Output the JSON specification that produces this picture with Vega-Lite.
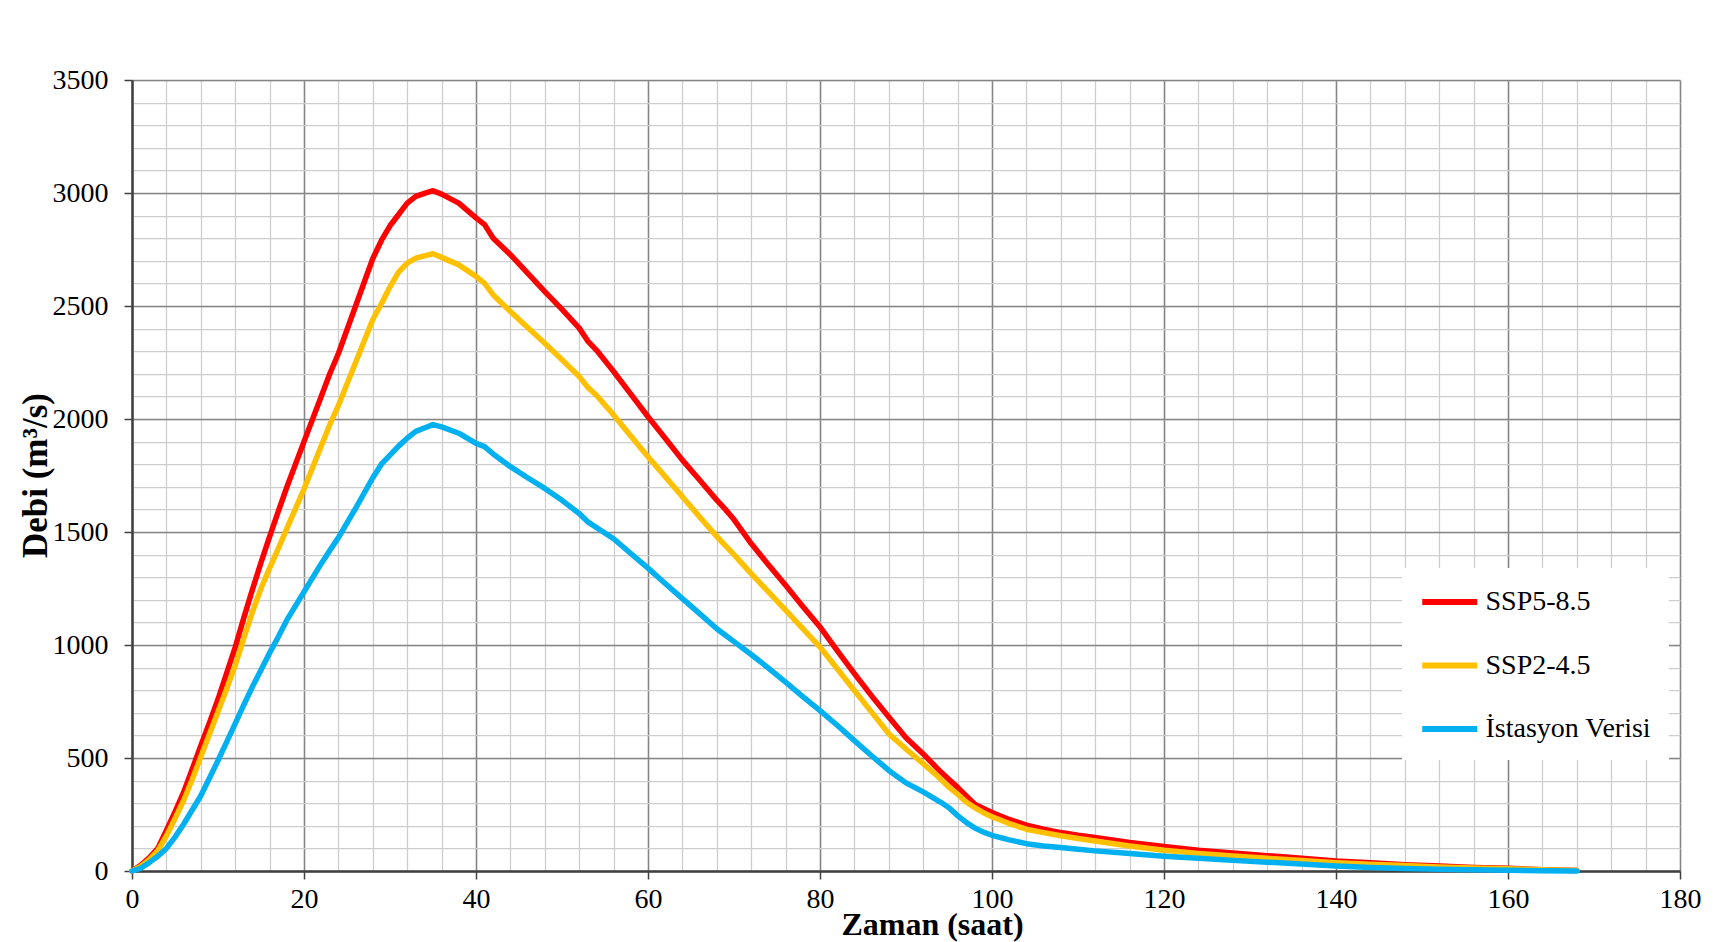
{
"$schema": "https://vega.github.io/schema/vega-lite/v6.json",
"width": 1548,
"height": 791,
"autosize": {"type": "none"},
"padding": {"left": 132, "top": 80, "right": 44, "bottom": 71},
"background": "white",
"config": {"view": {"stroke": null}, "font": "Liberation Serif", "axis": {"labelFont": "Liberation Serif", "titleFont": "Liberation Serif"}, "legend": {"labelFont": "Liberation Serif"}},
"data": {"values": [
{"s":"SSP5-8.5","t":0,"q":0},{"s":"SSP5-8.5","t":1,"q":25},{"s":"SSP5-8.5","t":2,"q":58},{"s":"SSP5-8.5","t":3,"q":100},{"s":"SSP5-8.5","t":4,"q":180},{"s":"SSP5-8.5","t":5,"q":262},{"s":"SSP5-8.5","t":6,"q":348},{"s":"SSP5-8.5","t":7,"q":450},{"s":"SSP5-8.5","t":8,"q":555},{"s":"SSP5-8.5","t":9,"q":655},{"s":"SSP5-8.5","t":10,"q":760},{"s":"SSP5-8.5","t":11,"q":875},{"s":"SSP5-8.5","t":12,"q":990},{"s":"SSP5-8.5","t":13,"q":1120},{"s":"SSP5-8.5","t":14,"q":1245},{"s":"SSP5-8.5","t":15,"q":1365},{"s":"SSP5-8.5","t":16,"q":1480},{"s":"SSP5-8.5","t":17,"q":1590},{"s":"SSP5-8.5","t":18,"q":1698},{"s":"SSP5-8.5","t":20,"q":1900},{"s":"SSP5-8.5","t":22,"q":2100},{"s":"SSP5-8.5","t":23,"q":2200},{"s":"SSP5-8.5","t":24,"q":2290},{"s":"SSP5-8.5","t":26,"q":2500},{"s":"SSP5-8.5","t":28,"q":2710},{"s":"SSP5-8.5","t":29,"q":2790},{"s":"SSP5-8.5","t":30,"q":2855},{"s":"SSP5-8.5","t":31,"q":2905},{"s":"SSP5-8.5","t":32,"q":2955},{"s":"SSP5-8.5","t":33,"q":2985},{"s":"SSP5-8.5","t":34,"q":2998},{"s":"SSP5-8.5","t":35,"q":3010},{"s":"SSP5-8.5","t":36,"q":2995},{"s":"SSP5-8.5","t":38,"q":2955},{"s":"SSP5-8.5","t":40,"q":2890},{"s":"SSP5-8.5","t":41,"q":2860},{"s":"SSP5-8.5","t":42,"q":2800},{"s":"SSP5-8.5","t":44,"q":2727},{"s":"SSP5-8.5","t":46,"q":2645},{"s":"SSP5-8.5","t":48,"q":2564},{"s":"SSP5-8.5","t":50,"q":2485},{"s":"SSP5-8.5","t":52,"q":2402},{"s":"SSP5-8.5","t":53,"q":2345},{"s":"SSP5-8.5","t":54,"q":2305},{"s":"SSP5-8.5","t":56,"q":2210},{"s":"SSP5-8.5","t":58,"q":2110},{"s":"SSP5-8.5","t":60,"q":2010},{"s":"SSP5-8.5","t":62,"q":1915},{"s":"SSP5-8.5","t":64,"q":1818},{"s":"SSP5-8.5","t":66,"q":1730},{"s":"SSP5-8.5","t":68,"q":1641},{"s":"SSP5-8.5","t":69,"q":1600},{"s":"SSP5-8.5","t":70,"q":1555},{"s":"SSP5-8.5","t":72,"q":1449},{"s":"SSP5-8.5","t":74,"q":1355},{"s":"SSP5-8.5","t":76,"q":1264},{"s":"SSP5-8.5","t":78,"q":1170},{"s":"SSP5-8.5","t":80,"q":1080},{"s":"SSP5-8.5","t":82,"q":975},{"s":"SSP5-8.5","t":84,"q":873},{"s":"SSP5-8.5","t":86,"q":775},{"s":"SSP5-8.5","t":88,"q":681},{"s":"SSP5-8.5","t":90,"q":590},{"s":"SSP5-8.5","t":92,"q":518},{"s":"SSP5-8.5","t":94,"q":440},{"s":"SSP5-8.5","t":95,"q":405},{"s":"SSP5-8.5","t":96,"q":370},{"s":"SSP5-8.5","t":97,"q":332},{"s":"SSP5-8.5","t":98,"q":295},{"s":"SSP5-8.5","t":99,"q":277},{"s":"SSP5-8.5","t":100,"q":259},{"s":"SSP5-8.5","t":102,"q":228},{"s":"SSP5-8.5","t":104,"q":203},{"s":"SSP5-8.5","t":106,"q":185},{"s":"SSP5-8.5","t":108,"q":170},{"s":"SSP5-8.5","t":110,"q":158},{"s":"SSP5-8.5","t":112,"q":148},{"s":"SSP5-8.5","t":116,"q":126},{"s":"SSP5-8.5","t":120,"q":108},{"s":"SSP5-8.5","t":124,"q":92},{"s":"SSP5-8.5","t":128,"q":80},{"s":"SSP5-8.5","t":132,"q":68},{"s":"SSP5-8.5","t":136,"q":56},{"s":"SSP5-8.5","t":140,"q":44},{"s":"SSP5-8.5","t":144,"q":36},{"s":"SSP5-8.5","t":148,"q":28},{"s":"SSP5-8.5","t":152,"q":22},{"s":"SSP5-8.5","t":156,"q":16},{"s":"SSP5-8.5","t":160,"q":12},{"s":"SSP5-8.5","t":164,"q":6},{"s":"SSP5-8.5","t":168,"q":2},
{"s":"SSP2-4.5","t":0,"q":0},{"s":"SSP2-4.5","t":1,"q":20},{"s":"SSP2-4.5","t":2,"q":50},{"s":"SSP2-4.5","t":3,"q":90},{"s":"SSP2-4.5","t":4,"q":155},{"s":"SSP2-4.5","t":5,"q":232},{"s":"SSP2-4.5","t":6,"q":312},{"s":"SSP2-4.5","t":7,"q":405},{"s":"SSP2-4.5","t":8,"q":505},{"s":"SSP2-4.5","t":9,"q":605},{"s":"SSP2-4.5","t":10,"q":705},{"s":"SSP2-4.5","t":11,"q":805},{"s":"SSP2-4.5","t":12,"q":910},{"s":"SSP2-4.5","t":13,"q":1030},{"s":"SSP2-4.5","t":14,"q":1145},{"s":"SSP2-4.5","t":15,"q":1250},{"s":"SSP2-4.5","t":16,"q":1340},{"s":"SSP2-4.5","t":17,"q":1425},{"s":"SSP2-4.5","t":18,"q":1515},{"s":"SSP2-4.5","t":20,"q":1690},{"s":"SSP2-4.5","t":22,"q":1880},{"s":"SSP2-4.5","t":23,"q":1975},{"s":"SSP2-4.5","t":24,"q":2060},{"s":"SSP2-4.5","t":26,"q":2250},{"s":"SSP2-4.5","t":28,"q":2440},{"s":"SSP2-4.5","t":29,"q":2510},{"s":"SSP2-4.5","t":30,"q":2585},{"s":"SSP2-4.5","t":31,"q":2650},{"s":"SSP2-4.5","t":32,"q":2690},{"s":"SSP2-4.5","t":33,"q":2712},{"s":"SSP2-4.5","t":34,"q":2722},{"s":"SSP2-4.5","t":35,"q":2731},{"s":"SSP2-4.5","t":36,"q":2715},{"s":"SSP2-4.5","t":38,"q":2682},{"s":"SSP2-4.5","t":40,"q":2631},{"s":"SSP2-4.5","t":41,"q":2600},{"s":"SSP2-4.5","t":42,"q":2549},{"s":"SSP2-4.5","t":44,"q":2476},{"s":"SSP2-4.5","t":46,"q":2405},{"s":"SSP2-4.5","t":48,"q":2335},{"s":"SSP2-4.5","t":50,"q":2262},{"s":"SSP2-4.5","t":52,"q":2188},{"s":"SSP2-4.5","t":53,"q":2140},{"s":"SSP2-4.5","t":54,"q":2105},{"s":"SSP2-4.5","t":56,"q":2018},{"s":"SSP2-4.5","t":58,"q":1925},{"s":"SSP2-4.5","t":60,"q":1833},{"s":"SSP2-4.5","t":62,"q":1745},{"s":"SSP2-4.5","t":64,"q":1656},{"s":"SSP2-4.5","t":66,"q":1567},{"s":"SSP2-4.5","t":68,"q":1480},{"s":"SSP2-4.5","t":69,"q":1440},{"s":"SSP2-4.5","t":70,"q":1400},{"s":"SSP2-4.5","t":72,"q":1316},{"s":"SSP2-4.5","t":74,"q":1235},{"s":"SSP2-4.5","t":76,"q":1154},{"s":"SSP2-4.5","t":78,"q":1072},{"s":"SSP2-4.5","t":80,"q":991},{"s":"SSP2-4.5","t":82,"q":895},{"s":"SSP2-4.5","t":84,"q":799},{"s":"SSP2-4.5","t":86,"q":703},{"s":"SSP2-4.5","t":88,"q":607},{"s":"SSP2-4.5","t":90,"q":540},{"s":"SSP2-4.5","t":92,"q":475},{"s":"SSP2-4.5","t":94,"q":408},{"s":"SSP2-4.5","t":95,"q":370},{"s":"SSP2-4.5","t":96,"q":340},{"s":"SSP2-4.5","t":97,"q":305},{"s":"SSP2-4.5","t":98,"q":280},{"s":"SSP2-4.5","t":99,"q":258},{"s":"SSP2-4.5","t":100,"q":240},{"s":"SSP2-4.5","t":102,"q":210},{"s":"SSP2-4.5","t":104,"q":185},{"s":"SSP2-4.5","t":106,"q":170},{"s":"SSP2-4.5","t":108,"q":156},{"s":"SSP2-4.5","t":110,"q":144},{"s":"SSP2-4.5","t":112,"q":133},{"s":"SSP2-4.5","t":116,"q":111},{"s":"SSP2-4.5","t":120,"q":92},{"s":"SSP2-4.5","t":124,"q":78},{"s":"SSP2-4.5","t":128,"q":66},{"s":"SSP2-4.5","t":132,"q":56},{"s":"SSP2-4.5","t":136,"q":46},{"s":"SSP2-4.5","t":140,"q":37},{"s":"SSP2-4.5","t":144,"q":30},{"s":"SSP2-4.5","t":148,"q":24},{"s":"SSP2-4.5","t":152,"q":18},{"s":"SSP2-4.5","t":156,"q":13},{"s":"SSP2-4.5","t":160,"q":10},{"s":"SSP2-4.5","t":164,"q":5},{"s":"SSP2-4.5","t":168,"q":2},
{"s":"İstasyon Verisi","t":0,"q":0},{"s":"İstasyon Verisi","t":1,"q":12},{"s":"İstasyon Verisi","t":2,"q":37},{"s":"İstasyon Verisi","t":3,"q":65},{"s":"İstasyon Verisi","t":4,"q":100},{"s":"İstasyon Verisi","t":5,"q":150},{"s":"İstasyon Verisi","t":6,"q":207},{"s":"İstasyon Verisi","t":7,"q":270},{"s":"İstasyon Verisi","t":8,"q":333},{"s":"İstasyon Verisi","t":9,"q":410},{"s":"İstasyon Verisi","t":10,"q":489},{"s":"İstasyon Verisi","t":11,"q":570},{"s":"İstasyon Verisi","t":12,"q":652},{"s":"İstasyon Verisi","t":13,"q":735},{"s":"İstasyon Verisi","t":14,"q":815},{"s":"İstasyon Verisi","t":15,"q":889},{"s":"İstasyon Verisi","t":16,"q":965},{"s":"İstasyon Verisi","t":17,"q":1035},{"s":"İstasyon Verisi","t":18,"q":1110},{"s":"İstasyon Verisi","t":20,"q":1235},{"s":"İstasyon Verisi","t":22,"q":1360},{"s":"İstasyon Verisi","t":23,"q":1418},{"s":"İstasyon Verisi","t":24,"q":1475},{"s":"İstasyon Verisi","t":26,"q":1605},{"s":"İstasyon Verisi","t":28,"q":1740},{"s":"İstasyon Verisi","t":29,"q":1800},{"s":"İstasyon Verisi","t":30,"q":1840},{"s":"İstasyon Verisi","t":31,"q":1880},{"s":"İstasyon Verisi","t":32,"q":1915},{"s":"İstasyon Verisi","t":33,"q":1945},{"s":"İstasyon Verisi","t":34,"q":1960},{"s":"İstasyon Verisi","t":35,"q":1975},{"s":"İstasyon Verisi","t":36,"q":1965},{"s":"İstasyon Verisi","t":38,"q":1937},{"s":"İstasyon Verisi","t":40,"q":1892},{"s":"İstasyon Verisi","t":41,"q":1878},{"s":"İstasyon Verisi","t":42,"q":1845},{"s":"İstasyon Verisi","t":44,"q":1789},{"s":"İstasyon Verisi","t":46,"q":1740},{"s":"İstasyon Verisi","t":48,"q":1693},{"s":"İstasyon Verisi","t":50,"q":1640},{"s":"İstasyon Verisi","t":52,"q":1582},{"s":"İstasyon Verisi","t":53,"q":1545},{"s":"İstasyon Verisi","t":54,"q":1520},{"s":"İstasyon Verisi","t":56,"q":1470},{"s":"İstasyon Verisi","t":58,"q":1405},{"s":"İstasyon Verisi","t":60,"q":1340},{"s":"İstasyon Verisi","t":62,"q":1272},{"s":"İstasyon Verisi","t":64,"q":1205},{"s":"İstasyon Verisi","t":66,"q":1139},{"s":"İstasyon Verisi","t":68,"q":1072},{"s":"İstasyon Verisi","t":69,"q":1043},{"s":"İstasyon Verisi","t":70,"q":1015},{"s":"İstasyon Verisi","t":72,"q":958},{"s":"İstasyon Verisi","t":74,"q":898},{"s":"İstasyon Verisi","t":76,"q":836},{"s":"İstasyon Verisi","t":78,"q":772},{"s":"İstasyon Verisi","t":80,"q":710},{"s":"İstasyon Verisi","t":82,"q":645},{"s":"İstasyon Verisi","t":84,"q":577},{"s":"İstasyon Verisi","t":86,"q":510},{"s":"İstasyon Verisi","t":88,"q":445},{"s":"İstasyon Verisi","t":90,"q":390},{"s":"İstasyon Verisi","t":92,"q":350},{"s":"İstasyon Verisi","t":94,"q":305},{"s":"İstasyon Verisi","t":95,"q":280},{"s":"İstasyon Verisi","t":96,"q":245},{"s":"İstasyon Verisi","t":97,"q":215},{"s":"İstasyon Verisi","t":98,"q":190},{"s":"İstasyon Verisi","t":99,"q":172},{"s":"İstasyon Verisi","t":100,"q":158},{"s":"İstasyon Verisi","t":102,"q":138},{"s":"İstasyon Verisi","t":104,"q":121},{"s":"İstasyon Verisi","t":106,"q":111},{"s":"İstasyon Verisi","t":108,"q":104},{"s":"İstasyon Verisi","t":110,"q":96},{"s":"İstasyon Verisi","t":112,"q":89},{"s":"İstasyon Verisi","t":116,"q":77},{"s":"İstasyon Verisi","t":120,"q":65},{"s":"İstasyon Verisi","t":124,"q":56},{"s":"İstasyon Verisi","t":128,"q":47},{"s":"İstasyon Verisi","t":132,"q":39},{"s":"İstasyon Verisi","t":136,"q":31},{"s":"İstasyon Verisi","t":140,"q":22},{"s":"İstasyon Verisi","t":144,"q":16},{"s":"İstasyon Verisi","t":148,"q":11},{"s":"İstasyon Verisi","t":152,"q":8},{"s":"İstasyon Verisi","t":156,"q":5},{"s":"İstasyon Verisi","t":160,"q":3},{"s":"İstasyon Verisi","t":164,"q":1},{"s":"İstasyon Verisi","t":168,"q":0}
]},
"layer": [
{
"mark": {"type": "line", "opacity": 0},
"encoding": {
"x": {"field": "t", "type": "quantitative", "scale": {"domain": [0, 180], "nice": false, "zero": false},
"axis": {"orient": "bottom", "values": [0,4,8,12,16,20,24,28,32,36,40,44,48,52,56,60,64,68,72,76,80,84,88,92,96,100,104,108,112,116,120,124,128,132,136,140,144,148,152,156,160,164,168,172,176,180], "grid": true, "gridColor": "#cdcdcd", "gridWidth": 1.25, "labels": false, "ticks": false, "domain": false, "title": null}},
"y": {"field": "q", "type": "quantitative", "scale": {"domain": [0, 3500], "nice": false},
"axis": {"orient": "left", "values": [0,100,200,300,400,500,600,700,800,900,1000,1100,1200,1300,1400,1500,1600,1700,1800,1900,2000,2100,2200,2300,2400,2500,2600,2700,2800,2900,3000,3100,3200,3300,3400,3500], "grid": true, "gridColor": "#cdcdcd", "gridWidth": 1.25, "labels": false, "ticks": false, "domain": false, "title": null}}
}
},
{
"mark": {"type": "line", "strokeWidth": 5.5, "strokeJoin": "round", "strokeCap": "round"},
"encoding": {
"x": {"field": "t", "type": "quantitative", "scale": {"domain": [0, 180], "nice": false, "zero": false},
"axis": {"orient": "bottom", "values": [0,20,40,60,80,100,120,140,160,180], "format": "d", "grid": true, "gridColor": "#858585", "gridWidth": 1.5, "domain": true, "domainColor": "#404040", "domainWidth": 2.5, "ticks": true, "tickColor": "#404040", "tickWidth": 1.5, "tickSize": 8, "labelFont": "Liberation Serif", "labelFontSize": 28, "labelColor": "#000000", "labelPadding": 6, "labelFlush": false, "labelOverlap": false,
"title": "Zaman (saat)", "titleFont": "Liberation Serif", "titleFontSize": 32, "titleFontWeight": "bold", "titleColor": "#000000", "titleX": 800, "titleY": 63, "titleAlign": "center", "titleBaseline": "alphabetic"}},
"y": {"field": "q", "type": "quantitative", "scale": {"domain": [0, 3500], "nice": false},
"axis": {"orient": "left", "values": [0,500,1000,1500,2000,2500,3000,3500], "format": "d", "grid": true, "gridColor": "#858585", "gridWidth": 1.5, "domain": true, "domainColor": "#404040", "domainWidth": 2.5, "ticks": true, "tickColor": "#404040", "tickWidth": 1.5, "tickSize": 8, "labelFont": "Liberation Serif", "labelFontSize": 28, "labelColor": "#000000", "labelPadding": 16, "labelFlush": false, "labelOverlap": false,
"title": "Debi (m³/s)", "titleFont": "Liberation Serif", "titleFontSize": 35, "titleFontWeight": "bold", "titleColor": "#000000", "titleX": -86, "titleY": 395, "titleAngle": 270, "titleAlign": "center", "titleBaseline": "alphabetic"}},
"color": {"field": "s", "type": "nominal", "sort": null,
"scale": {"domain": ["SSP5-8.5", "SSP2-4.5", "İstasyon Verisi"], "range": ["#FF0000", "#FFC000", "#00B0F0"]},
"legend": {"orient": "none", "legendX": 1270, "legendY": 488, "title": null, "fillColor": "#ffffff", "padding": 17, "rowPadding": 32.5, "symbolType": "M-1,0H3", "symbolSize": 756, "symbolStrokeWidth": 6, "labelFont": "Liberation Serif", "labelFontSize": 28, "labelColor": "#000000", "labelOffset": 32.5, "labelLimit": 0, "direction": "vertical"}}
}
}
],
"resolve": {"axis": {"x": "independent", "y": "independent"}}
}
